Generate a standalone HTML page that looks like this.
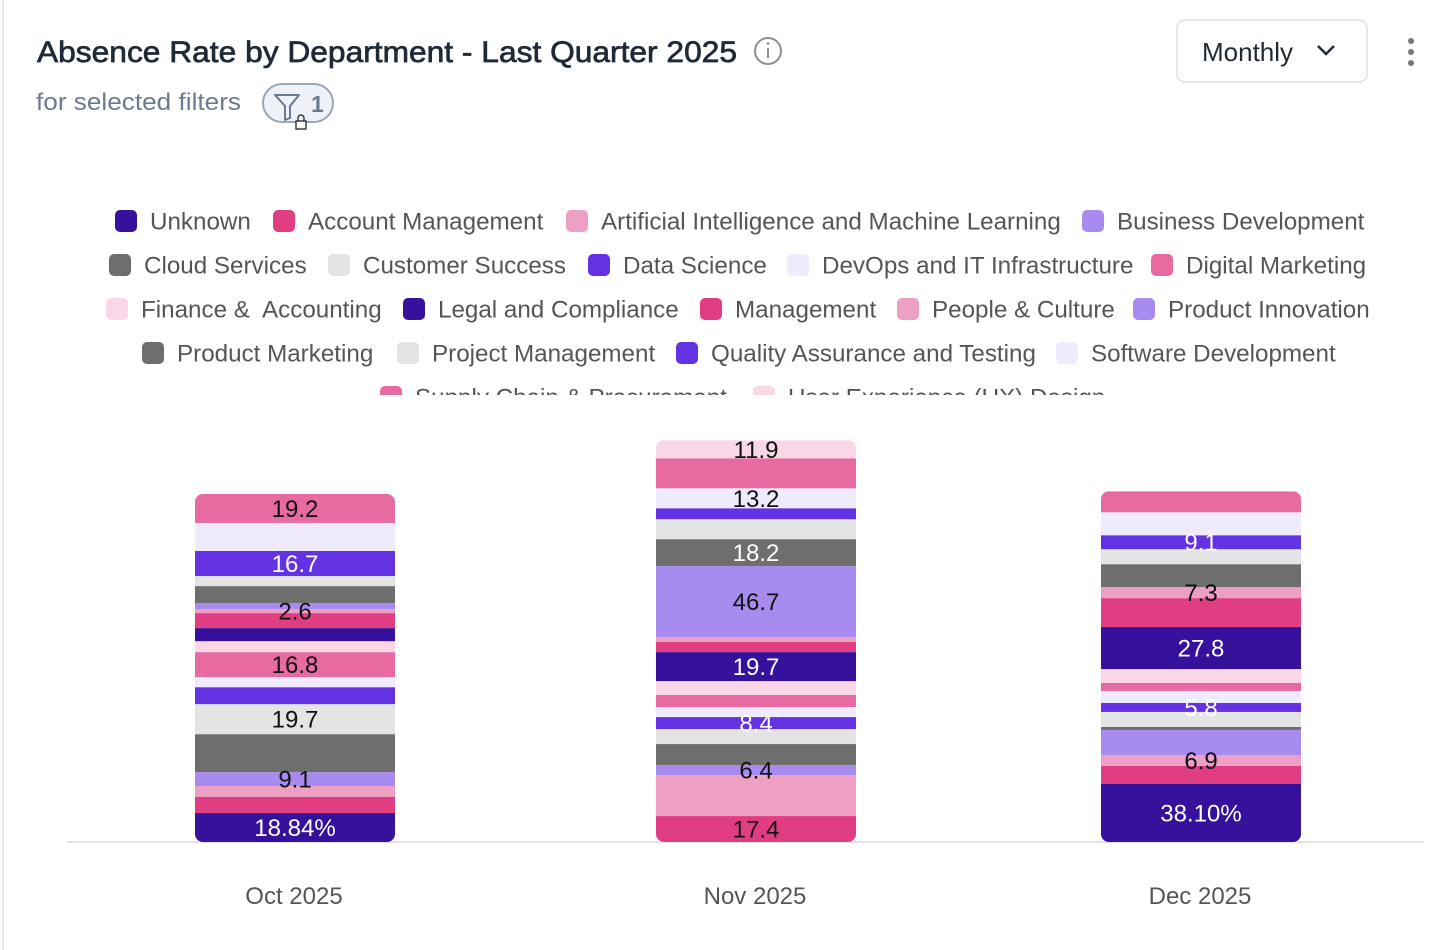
<!DOCTYPE html>
<html><head><meta charset="utf-8"><style>
html,body{margin:0;padding:0;background:#fff;width:1450px;height:950px;overflow:hidden;font-family:"Liberation Sans",sans-serif}
</style></head><body>
<svg id="chart" width="1450" height="950" viewBox="0 0 1450 950" xmlns="http://www.w3.org/2000/svg" font-family="Liberation Sans, sans-serif">
<line x1="3" y1="0" x2="3" y2="950" stroke="#e6e8ec" stroke-width="2"/>
<text x="37" y="62" font-size="30" fill="#1f2a37" stroke="#1f2a37" stroke-width="0.7" textLength="700" lengthAdjust="spacingAndGlyphs">Absence Rate by Department - Last Quarter 2025</text>
<g><circle cx="768" cy="51" r="13" fill="none" stroke="#8a8f98" stroke-width="2"/><line x1="768" y1="48" x2="768" y2="58" stroke="#8a8f98" stroke-width="2"/><circle cx="768" cy="43.5" r="1.4" fill="#8a8f98"/></g>
<text x="36" y="110" font-size="24" fill="#6b7a90" textLength="205" lengthAdjust="spacingAndGlyphs">for selected filters</text>
<g><rect x="263" y="84" width="70" height="38" rx="19" fill="#eef2f8" stroke="#9aa6b4" stroke-width="2"/><path d="M275 95 L299 95 L290 106 L290 118 L285 120 L285 106 Z" fill="none" stroke="#6b7a90" stroke-width="2" stroke-linejoin="round"/><rect x="296" y="121" width="10" height="8" fill="#fff" stroke="#222" stroke-width="1.3"/><path d="M298 121 v-3 a3 3 0 0 1 6 0 v3" fill="none" stroke="#222" stroke-width="1.3"/><text x="311" y="112" font-size="23" fill="#6b7a90" font-weight="bold">1</text></g>
<g><rect x="1177" y="20" width="190" height="62" rx="8" fill="#fff" stroke="#dcdfe4" stroke-width="1.5"/><text x="1202" y="61" font-size="26" fill="#1f2a37">Monthly</text><path d="M1318 46 l8 8 l8 -8" fill="none" stroke="#1f2a37" stroke-width="2.5"/></g>
<g fill="#777"><circle cx="1411" cy="41" r="3"/><circle cx="1411" cy="52" r="3"/><circle cx="1411" cy="63" r="3"/></g>
<defs><clipPath id="legclip"><rect x="0" y="195" width="1450" height="200"/></clipPath></defs>
<g id="legend" clip-path="url(#legclip)"></g>
<line x1="67" y1="842" x2="1424" y2="842" stroke="#dcdcdc" stroke-width="1.5"/>
<g id="bars"></g>
<g id="xlabels"></g>
</svg>
<script>
const series = ["Unknown","Account Management","Artificial Intelligence and Machine Learning","Business Development","Cloud Services","Customer Success","Data Science","DevOps and IT Infrastructure","Digital Marketing","Finance &\u00a0 Accounting","Legal and Compliance","Management","People & Culture","Product Innovation","Product Marketing","Project Management","Quality Assurance and Testing","Software Development","Supply Chain & Procurement","User Experience (UX) Design"];
const colors = ["#35119c","#e03d82","#eea0c4","#a78bee","#6e6e6e","#e4e4e4","#6232e3","#efebfc","#e76ba0","#f9d7e7","#35119c","#e03d82","#eea0c4","#a78bee","#6e6e6e","#e4e4e4","#6232e3","#efebfc","#e76ba0","#f9d7e7"];
const categories = ["Oct 2025","Nov 2025","Dec 2025"];
const octValues = [19.3,10.7,7.3,9.3,25.3,20,11.3,6.7,16.7,7.3,8.7,10,2.7,4,11.3,6.7,16.7,18.7,19.3,0];
const novValues = [0,17.3,27.3,6.7,14,10,8,6.7,8,9.3,19.3,6.7,3.3,47.3,18,13.3,7.3,13.3,20,12];
const decValues = [38.7,12,7.3,16.7,2,10,6,8,5.3,9.3,28,19.3,7.3,0,15.3,10,9.3,15.3,14,0];
const octLabels = ["18.84%","","","9.1","","19.7","","","16.8","","","","2.6","","","","16.7","","19.2",""];
const novLabels = ["","17.4","","6.4","","","8.4","","","","19.7","","","46.7","18.2","","","13.2","","11.9"];
const decLabels = ["38.10%","","6.9","","","","5.8","","","","27.8","","7.3","","","","9.1","","",""];
const allValues=[octValues,novValues,decValues], allLabels=[octLabels,novLabels,decLabels];
const NS="http://www.w3.org/2000/svg";
const baseY=842, pxPerUnit=1.5, barW=200, centers=[295,756,1201];
function yScale(v){return baseY - v*pxPerUnit;}
function xCenter(i){return centers[i];}
const dark=new Set(["#35119c","#6232e3","#6e6e6e"]);
const barsG=document.getElementById('bars');
const defs=document.querySelector('defs');
categories.forEach((cat,ci)=>{
  const vals=allValues[ci], labs=allLabels[ci];
  const total=vals.reduce((a,b)=>a+b,0);
  const x0=xCenter(ci)-barW/2;
  const cp=document.createElementNS(NS,'clipPath'); cp.setAttribute('id','bc'+ci);
  const cr=document.createElementNS(NS,'rect');
  cr.setAttribute('x',x0);cr.setAttribute('y',yScale(total));cr.setAttribute('width',barW);cr.setAttribute('height',baseY-yScale(total));cr.setAttribute('rx',8);
  cp.appendChild(cr); defs.appendChild(cp);
  const g=document.createElementNS(NS,'g'); g.setAttribute('clip-path','url(#bc'+ci+')');
  
  
  barsG.appendChild(g);
  const lg=document.createElementNS(NS,'g'); barsG.appendChild(lg);
  let cum=0;
  vals.forEach((v,si)=>{
    if(v<=0) return;
    const yTop=yScale(cum+v), yBot=yScale(cum);
    const r=document.createElementNS(NS,'rect');
    r.setAttribute('x',x0);r.setAttribute('y',yTop);r.setAttribute('width',barW);r.setAttribute('height',yBot-yTop);
    r.setAttribute('fill',colors[si]);
    
    
    g.appendChild(r);
    if(labs[si]){
      const t=document.createElementNS(NS,'text');
      t.setAttribute('x',xCenter(ci));t.setAttribute('y',(yTop+yBot)/2+8.5);
      t.setAttribute('text-anchor','middle');t.setAttribute('font-size','24');
      t.setAttribute('fill',dark.has(colors[si])?'#fff':'#111');
      t.textContent=labs[si];
      
      
      lg.appendChild(t);
    }
    cum+=v;
  });
  const xl=document.createElementNS(NS,'text');
  xl.setAttribute('x',xCenter(ci)-1);xl.setAttribute('y',904);xl.setAttribute('text-anchor','middle');
  xl.setAttribute('font-size','24');xl.setAttribute('fill','#555');xl.textContent=cat;
  
  
  document.getElementById('xlabels').appendChild(xl);
});
const rows=[[0,1,2,3],[4,5,6,7,8],[9,10,11,12,13],[14,15,16,17],[18,19]];
const rowStart=[115,109,106,142,380];
const rowGap=[[0,158,451,967],[0,219,479,678,1042],[0,297,594,791,1027],[0,255,534,914],[0,373]];
const legG=document.getElementById('legend');
rows.forEach((row,ri)=>{
  const cy=221+ri*44;
  row.forEach((si,k)=>{
    const sx=rowStart[ri]+rowGap[ri][k];
    const it=document.createElementNS(NS,'g');
    
    
    const s=document.createElementNS(NS,'rect');
    s.setAttribute('x',sx);s.setAttribute('y',cy-11);s.setAttribute('width',22);s.setAttribute('height',22);s.setAttribute('rx',5);s.setAttribute('fill',colors[si]);
    it.appendChild(s);
    const t=document.createElementNS(NS,'text');
    t.setAttribute('x',sx+35);t.setAttribute('y',cy+8.5);t.setAttribute('font-size','24.2');t.setAttribute('fill','#555');
    t.textContent=series[si];
    it.appendChild(t);
    legG.appendChild(it);
  });
});
</script>
</body></html>
